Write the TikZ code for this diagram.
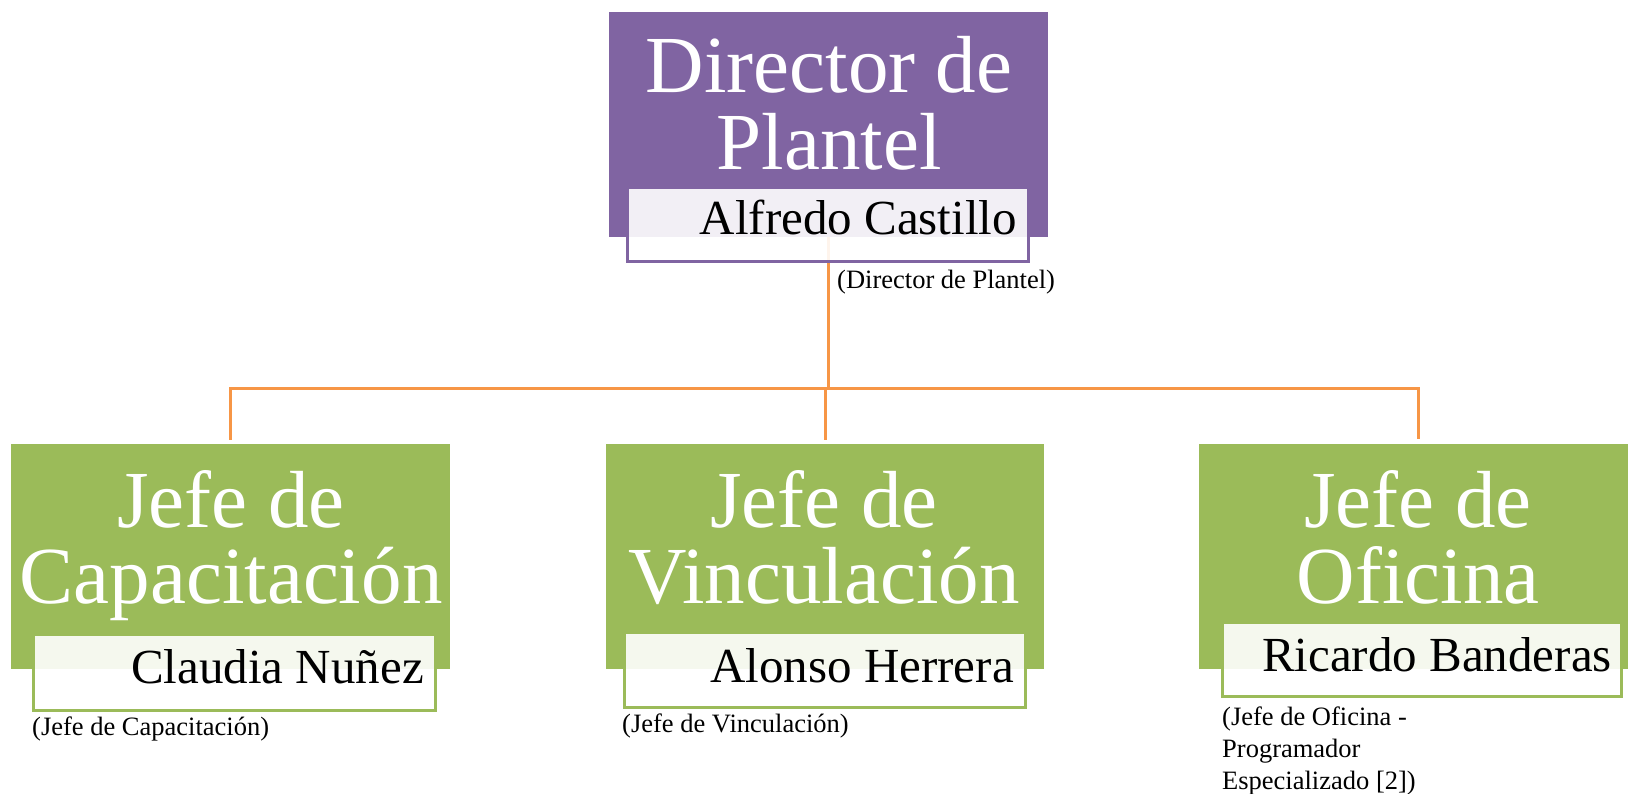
\documentclass[tikz,border=0pt]{standalone}
\usepackage{fontspec}
\setmainfont{Liberation Serif}
\definecolor{hpurple}{HTML}{8064A2}
\definecolor{hgreen}{HTML}{9BBB59}
\definecolor{horange}{HTML}{F79646}
\tikzset{
  mainbox/.style={rectangle, fill=#1, draw=none, inner sep=0pt, minimum height=225pt},
  subbox/.style={rectangle, draw=#1, line width=3pt, fill=white, fill opacity=0.9, draw opacity=1, inner sep=0pt},
  titletext/.style={inner sep=0pt, text=white, font=\fontsize{81}{77}\selectfont, anchor=base},
  nametext/.style={inner sep=0pt, text=black, font=\fontsize{49}{56}\selectfont, anchor=base east},
  labeltext/.style={inner sep=0pt, text=black, font=\fontsize{26.5}{32}\selectfont, anchor=base west},
  conn/.style={draw=horange, line width=3pt}
}
\begin{document}
\begin{tikzpicture}[x=1pt,y=-1pt]
\useasboundingbox (0,0) rectangle (1628,794);
% main boxes
\node[mainbox=hpurple, minimum width=439pt] (dir) at (828.5,124.5) {};
\node[mainbox=hgreen, minimum width=439pt] (cap) at (230.5,556.5) {};
\node[mainbox=hgreen, minimum width=438pt] (vin) at (825,556.5) {};
\node[mainbox=hgreen, minimum width=438pt] (ofi) at (1418,556) {};
% connectors
\coordinate (bus) at (0,388);
\draw[conn] (dir.south) -- (dir.south |- bus);
\draw[conn] ([yshift=4pt]cap.north) -- (cap.north |- bus) -- (ofi.north |- bus) -- ([yshift=4pt]ofi.north);
\draw[conn] ([yshift=4pt]vin.north) -- (vin.north |- bus);
% titles
\node[titletext] (dirt1) at (829,93) {Director de};
\node[titletext] (dirt2) at (829,170) {Plantel};
\node[titletext] (capt1) at (231,527) {Jefe de};
\node[titletext] (capt2) at (231,603) {Capacitación};
\node[titletext] (vint1) at (824,527) {Jefe de};
\node[titletext] (vint2) at (824,603) {Vinculación};
\node[titletext] (ofit1) at (1418,527) {Jefe de};
\node[titletext] (ofit2) at (1418,603) {Oficina};
% sub boxes
\node[subbox=hpurple, minimum width=401pt, minimum height=74pt] (dirsub) at (827.5,225) {};
\node[subbox=hgreen, minimum width=402pt, minimum height=76pt] (capsub) at (234,672) {};
\node[subbox=hgreen, minimum width=401pt, minimum height=75pt] (vinsub) at (824.5,669.5) {};
\node[subbox=hgreen, minimum width=399pt, minimum height=74pt] (ofisub) at (1421.5,659) {};
% names
\node[nametext] (dirname) at (1017,235) {Alfredo Castillo};
\node[nametext] (capname) at (424,683) {Claudia Nuñez};
\node[nametext] (vinname) at (1014,682) {Alonso Herrera};
\node[nametext] (ofiname) at (1612,671) {Ricardo Banderas};
% labels
\node[labeltext] (dirlab) at (837,289) {(Director de Plantel)};
\node[labeltext] (caplab) at (32,735) {(Jefe de Capacitación)};
\node[labeltext] (vinlab) at (622,732) {(Jefe de Vinculación)};
\node[labeltext] (ofilab1) at (1222,725) {(Jefe de Oficina -};
\node[labeltext] (ofilab2) at (1222,757) {Programador};
\node[labeltext] (ofilab3) at (1222,789) {Especializado [2])};
\end{tikzpicture}
\end{document}
